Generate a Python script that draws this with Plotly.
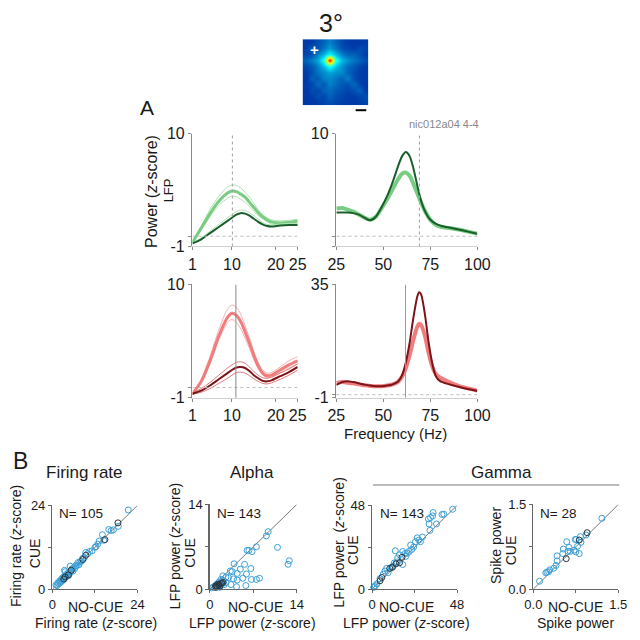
import plotly.graph_objects as go

# ---------------- DATA ----------------
freq_alpha = [1, 3, 5, 7, 9, 10, 11, 12, 13, 14, 15, 16, 17, 18, 19, 21, 23, 25]
green_light_alpha = [-0.6, 0.8, 2.2, 3.4, 4.2, 4.4, 4.35, 4.1, 3.8, 3.3, 2.8, 2.3, 1.9, 1.6, 1.4, 1.3, 1.35, 1.45]
green_light_alpha_hi = [-0.5, 1.0, 2.6, 3.9, 4.8, 5.0, 4.95, 4.7, 4.3, 3.8, 3.2, 2.6, 2.1, 1.8, 1.6, 1.5, 1.55, 1.65]
green_light_alpha_lo = [-0.7, 0.6, 1.9, 3.0, 3.7, 3.9, 3.85, 3.6, 3.3, 2.9, 2.4, 2.0, 1.7, 1.4, 1.2, 1.1, 1.15, 1.25]
green_dark_alpha = [-0.7, -0.3, 0.3, 0.9, 1.5, 1.8, 2.1, 2.25, 2.2, 2.0, 1.7, 1.4, 1.15, 1.0, 0.95, 1.05, 1.1, 1.1]
green_dark_alpha_hi = [-0.65, -0.15, 0.5, 1.15, 1.8, 2.1, 2.4, 2.55, 2.5, 2.3, 2.0, 1.65, 1.35, 1.15, 1.1, 1.2, 1.25, 1.25]

red_light_alpha = [-0.6, 0.6, 2.6, 5.0, 6.8, 7.2, 7.0, 6.4, 5.4, 4.3, 3.1, 2.1, 1.4, 1.15, 1.2, 1.7, 2.2, 2.6]
red_light_alpha_hi = [-0.5, 0.8, 3.0, 5.6, 7.6, 8.0, 7.8, 7.1, 6.0, 4.8, 3.5, 2.4, 1.7, 1.4, 1.45, 2.0, 2.6, 3.0]
red_light_alpha_lo = [-0.7, 0.4, 2.3, 4.6, 6.3, 6.6, 6.3, 5.7, 4.8, 3.8, 2.7, 1.8, 1.2, 1.0, 1.0, 1.45, 1.9, 2.3]
red_dark_alpha = [-0.6, -0.3, 0.2, 0.8, 1.4, 1.7, 1.95, 2.0, 1.9, 1.6, 1.2, 0.9, 0.65, 0.6, 0.7, 1.1, 1.5, 2.0]
red_dark_alpha_hi = [-0.55, -0.1, 0.5, 1.2, 1.9, 2.2, 2.45, 2.5, 2.35, 2.0, 1.55, 1.2, 0.95, 0.9, 1.0, 1.4, 1.8, 2.3]
red_dark_alpha_lo = [-0.65, -0.45, -0.1, 0.4, 0.9, 1.2, 1.45, 1.5, 1.4, 1.15, 0.85, 0.6, 0.4, 0.35, 0.45, 0.8, 1.2, 1.7]

freq_gamma = [25, 28, 31, 34, 37, 40, 43, 46, 49, 52, 55, 58, 60, 62, 64, 66, 68, 70, 72, 75, 78, 81, 85, 90, 95, 100]
green_dark_gamma = [2.3, 2.3, 2.3, 2.25, 2.1, 1.8, 1.55, 1.9, 2.8, 3.9, 5.3, 6.9, 7.8, 8.2, 7.8, 6.6, 5.0, 3.5, 2.5, 1.6, 1.2, 1.0, 0.85, 0.65, 0.45, 0.25]
green_light_gamma = [2.7, 2.75, 2.6, 2.4, 2.1, 1.8, 1.6, 1.9, 2.7, 3.6, 4.6, 5.6, 6.1, 6.2, 5.9, 5.1, 4.2, 3.3, 2.5, 1.6, 1.1, 0.9, 0.8, 0.65, 0.45, 0.25]

freq_gamma2 = [25, 28, 31, 34, 37, 40, 43, 46, 49, 52, 55, 58, 60, 62, 64, 66, 68, 69, 70, 72, 74, 76, 78, 80, 85, 90, 95, 100]
red_dark_gamma = [3.1, 4.0, 4.3, 4.0, 3.6, 3.2, 2.9, 2.7, 2.7, 2.9, 3.3, 4.3, 6.2, 10.3, 16.5, 24.5, 31.0, 32.5, 32.0, 26.0, 17.0, 10.0, 5.8, 4.4, 3.3, 2.5, 1.8, 1.2]
red_light_gamma = [3.6, 4.0, 3.8, 3.6, 3.3, 3.0, 2.8, 2.7, 2.7, 2.9, 3.3, 4.2, 5.8, 8.5, 12.5, 17.5, 21.5, 22.5, 22.2, 19.0, 13.5, 9.0, 6.5, 5.5, 4.0, 2.8, 2.0, 1.3]

# Panel B scatter data (x = NO-CUE, y = CUE)
fr_nocue = [1.0, 1.3, 1.5, 1.8, 2.0, 2.2, 2.5, 2.6, 2.8, 3.0, 3.2, 3.4, 3.6, 3.8, 4.0, 4.2, 4.5, 4.8, 5.0, 5.2, 5.5, 5.8, 6.0, 6.3, 6.6, 7.0, 7.2, 7.5, 7.8, 8.2, 8.5, 9.0, 9.4, 10.0, 10.5, 11.2, 12.0, 12.3, 12.8, 13.2, 14.1, 14.5, 15.9, 16.6, 17.2, 18.6, 21.4, 3.4, 2.3, 4.6]
fr_cue = [1.2, 1.0, 1.8, 1.5, 2.3, 1.9, 2.8, 2.2, 3.2, 2.6, 3.5, 3.0, 5.0, 3.8, 4.3, 3.7, 4.8, 4.5, 6.6, 5.0, 5.8, 5.2, 6.2, 5.9, 6.8, 6.8, 7.6, 7.0, 7.9, 8.0, 8.8, 9.0, 10.5, 10.2, 10.8, 11.0, 12.0, 12.2, 12.9, 13.8, 15.6, 14.0, 17.1, 16.8, 17.0, 18.0, 22.7, 5.4, 2.1, 3.9]
fr_dark_nocue = [3.2, 3.6, 4.5, 5.3, 8.6, 9.4, 14.8, 18.5]
fr_dark_cue = [2.9, 3.5, 4.1, 5.4, 8.5, 9.7, 14.2, 19.0]

al_nocue = [9.4, 9.1, 10.9, 7.5, 6.0, 6.3, 6.8, 12.8, 12.6, 3.9, 5.6, 4.9, 6.6, 3.3, 3.6, 4.4, 5.9, 5.3, 6.7, 7.5, 8.0, 3.0, 3.8, 4.4, 2.2, 2.6, 3.4, 4.3, 5.8, 2.3, 2.1, 0.3, 0.6, 0.8, 1.0, 1.2, 1.5, 1.8, 1.4, 2.0, 2.6, 1.6]
al_cue = [9.5, 8.8, 6.9, 7.0, 6.4, 6.4, 6.2, 4.7, 4.1, 4.2, 4.1, 3.3, 3.4, 3.0, 2.9, 2.6, 2.5, 1.8, 1.6, 1.6, 1.8, 1.9, 1.7, 1.5, 1.4, 1.1, 0.75, 0.4, 0.6, 0.75, 2.2, 0.2, 0.4, 0.3, 0.7, 0.9, 1.2, 1.6, 0.5, 0.9, 2.0, 0.3]
al_dark_nocue = [0.9, 1.1, 1.3, 1.5, 1.7, 1.9, 1.0, 1.2, 1.6, 2.1]
al_dark_cue = [0.5, 0.6, 0.8, 0.7, 0.9, 1.0, 0.3, 0.4, 0.5, 1.1]

gl_nocue = [45.5, 40.5, 39.5, 34.5, 34.2, 33.0, 31.8, 32.2, 36.4, 32.7, 25.5, 26.4, 24.5, 21.8, 27.3, 13.1, 17.3, 20.9, 19.8, 18.8, 15.5, 14.5, 17.3, 14.0, 11.8, 10.8, 8.2, 7.3, 9.1, 6.4, 4.5, 2.7, 1.8, 0.9, 1.3, 22.5, 28.5, 12.5, 19.0, 23.5]
gl_cue = [45.8, 43.0, 42.8, 43.9, 42.0, 41.0, 40.2, 37.4, 37.4, 33.7, 29.4, 28.1, 27.2, 25.3, 27.2, 22.0, 21.6, 21.6, 20.6, 20.5, 19.7, 17.9, 14.1, 15.6, 13.2, 12.4, 11.9, 10.4, 9.5, 8.6, 6.0, 3.0, 2.0, 1.0, 1.5, 22.8, 29.9, 15.0, 18.8, 24.2]
gl_dark_nocue = [16.9, 15.5, 10.0, 5.5, 4.5, 11.5, 13.5]
gl_dark_cue = [18.2, 15.1, 11.9, 6.7, 4.8, 12.5, 14.5]

sp_nocue = [1.21, 0.93, 0.83, 0.74, 0.59, 0.84, 0.76, 0.78, 0.72, 0.81, 0.75, 0.65, 0.61, 0.53, 0.52, 0.42, 0.42, 0.40, 0.36, 0.29, 0.24, 0.22, 0.27, 0.11, 0.63]
sp_cue = [1.255, 0.96, 0.93, 0.88, 0.84, 0.83, 0.88, 0.76, 0.69, 0.63, 0.66, 0.67, 0.67, 0.71, 0.63, 0.59, 0.50, 0.42, 0.37, 0.34, 0.30, 0.29, 0.31, 0.14, 0.74]
sp_dark_nocue = [0.95, 0.81, 0.58]
sp_dark_cue = [1.0, 0.87, 0.54]

# receptive field map (coarse grid, rows top->bottom)
rf_map = [
    [0.19, 0.20, 0.22, 0.24, 0.27, 0.24, 0.21, 0.20, 0.19, 0.19, 0.20],
    [0.20, 0.23, 0.22, 0.26, 0.30, 0.26, 0.22, 0.21, 0.20, 0.22, 0.21],
    [0.21, 0.22, 0.27, 0.32, 0.40, 0.33, 0.27, 0.24, 0.24, 0.22, 0.20],
    [0.24, 0.27, 0.31, 0.42, 0.80, 0.44, 0.33, 0.29, 0.26, 0.24, 0.22],
    [0.21, 0.23, 0.27, 0.33, 0.42, 0.34, 0.29, 0.25, 0.23, 0.21, 0.20],
    [0.20, 0.22, 0.26, 0.28, 0.31, 0.29, 0.28, 0.24, 0.22, 0.20, 0.19],
    [0.19, 0.24, 0.23, 0.27, 0.28, 0.26, 0.24, 0.27, 0.22, 0.20, 0.19],
    [0.20, 0.21, 0.25, 0.23, 0.27, 0.25, 0.23, 0.22, 0.25, 0.21, 0.19],
    [0.19, 0.22, 0.21, 0.24, 0.25, 0.23, 0.22, 0.21, 0.22, 0.24, 0.20],
    [0.19, 0.20, 0.22, 0.21, 0.24, 0.22, 0.21, 0.20, 0.20, 0.21, 0.22],
    [0.18, 0.19, 0.20, 0.21, 0.22, 0.21, 0.20, 0.19, 0.19, 0.20, 0.21],
]

# ---------------- STYLE ----------------
W = H = 640
FONT = "Liberation Sans, Arial, Helvetica, sans-serif"
TXT = "#1a1a1a"
G_LIGHT = "rgb(120,205,130)"
G_THIN = "rgb(175,228,175)"
G_DARK = "rgb(25,95,45)"
R_LIGHT = "rgb(240,125,125)"
R_THIN = "rgb(246,175,175)"
R_DARK = "rgb(125,20,25)"
R_DARK_THIN = "rgb(225,120,120)"
BLUE = "rgb(60,160,215)"
DARKPT = "rgb(40,55,65)"


def fx(x):
    return x / W


def fy(y):
    return 1 - y / H


fig = go.Figure()
layout = dict(width=W, height=H, margin=dict(l=0, r=0, t=0, b=0), autosize=False,
              paper_bgcolor="white", plot_bgcolor="white", showlegend=False,
              font=dict(family=FONT, color=TXT))
shapes = []
annotations = []


def ann(text, x, y, size, color=TXT, angle=0, xanchor="center", yanchor="middle"):
    annotations.append(dict(text=text, x=fx(x), y=fy(y), xref="paper", yref="paper",
                            showarrow=False, textangle=angle, xanchor=xanchor, yanchor=yanchor,
                            font=dict(size=size, color=color, family=FONT)))


def axes(n, x0, x1, y0, y1, xr, yr, xtv, xtt, ytv, ytt, tsize, lc, xlc):
    s = "" if n == 1 else str(n)
    layout["xaxis" + s] = dict(domain=[fx(x0), fx(x1)], range=xr, anchor="y" + s,
                               showgrid=False, zeroline=False, showline=True, linecolor=xlc,
                               linewidth=1, ticks="outside", ticklen=3, tickcolor=lc,
                               tickvals=xtv, ticktext=xtt, tickfont=dict(size=tsize, color=TXT),
                               fixedrange=True)
    layout["yaxis" + s] = dict(domain=[fy(y1), fy(y0)], range=yr, anchor="x" + s,
                               showgrid=False, zeroline=False, showline=True, linecolor=lc,
                               linewidth=1.5, ticks="outside", ticklen=3, tickcolor=lc,
                               tickvals=ytv, ticktext=ytt, tickfont=dict(size=tsize, color=TXT),
                               fixedrange=True)


def line(n, xs, ys, color, width):
    s = "" if n == 1 else str(n)
    fig.add_trace(go.Scatter(x=xs, y=ys, mode="lines", line=dict(color=color, width=width, shape="spline", smoothing=0.8),
                             xaxis="x" + s, yaxis="y" + s, hoverinfo="skip"))


def refline(n, xval, ylo, yhi, dash, color):
    s = "" if n == 1 else str(n)
    shapes.append(dict(type="line", xref="x" + s, yref="y" + s, x0=xval, x1=xval, y0=ylo, y1=yhi,
                       line=dict(color=color, width=1, dash=dash)))


def hline0(n, xlo, xhi):
    s = "" if n == 1 else str(n)
    shapes.append(dict(type="line", xref="x" + s, yref="y" + s, x0=xlo, x1=xhi, y0=0, y1=0,
                       line=dict(color="#bbbbbb", width=1, dash="dot")))


# ---------- Panel A ----------
AX = "#8a8a8a"
axes(1, 190, 299, 129, 245, [1, 25], [-1, 10], [1, 10, 20, 25], ["1", "10", "20", "25"],
     [-1, 0, 10], ["-1", "", "10"], 16, AX, "#d0d0d0")
axes(2, 339, 485, 129, 245, [25, 100], [-1, 10], [25, 50, 75, 100], ["25", "50", "75", "100"],
     [-1, 0, 10], ["", "", "10"], 16, AX, "#d0d0d0")
axes(3, 190, 299, 284, 400.5, [1, 25], [-1, 10], [1, 10, 20, 25], ["1", "10", "20", "25"],
     [-1, 0, 10], ["-1", "", "10"], 16, AX, "#d0d0d0")
axes(4, 339, 485, 284, 400.5, [25, 100], [-1, 35], [25, 50, 75, 100], ["25", "50", "75", "100"],
     [-1, 0, 35], ["-1", "", "35"], 16, AX, "#d0d0d0")

hline0(1, 1, 25)
hline0(2, 25, 100)
hline0(3, 1, 25)
hline0(4, 25, 100)
refline(1, 10.1, -1, 10, "dot", "#a0a0a0")
refline(2, 69.2, -1, 10.6, "dot", "#a0a0a0")
refline(3, 10.9, -1, 10, "solid", "#8a8a8a")
refline(4, 61.8, -1, 35, "solid", "#9a9a9a")

# top-left
line(1, freq_alpha, green_light_alpha_hi, G_THIN, 1)
line(1, freq_alpha, green_light_alpha_lo, G_THIN, 1)
line(1, freq_alpha, green_light_alpha, G_LIGHT, 3)
line(1, freq_alpha, green_dark_alpha_hi, G_THIN, 1)
line(1, freq_alpha, green_dark_alpha, G_DARK, 2)
# top-right
line(2, freq_gamma, green_light_gamma, G_LIGHT, 4)
line(2, freq_gamma, green_dark_gamma, G_DARK, 2)
# bottom-left
line(3, freq_alpha, red_light_alpha_hi, R_THIN, 1)
line(3, freq_alpha, red_light_alpha_lo, R_THIN, 1)
line(3, freq_alpha, red_light_alpha, R_LIGHT, 3)
line(3, freq_alpha, red_dark_alpha_hi, R_DARK_THIN, 1)
line(3, freq_alpha, red_dark_alpha_lo, R_DARK_THIN, 1)
line(3, freq_alpha, red_dark_alpha, R_DARK, 2)
# bottom-right
line(4, freq_gamma2, red_light_gamma, R_LIGHT, 4)
line(4, freq_gamma2, red_dark_gamma, R_DARK, 2)

ann("Power (<i>z</i>-score)", 147, 188, 16, angle=-90)
ann("LFP", 165, 187, 13, angle=-90)
ann("Frequency (Hz)", 400, 437, 15)
ann("nic012a04 4-4", 451, 119, 11, color="#888888")
ann("A", 143, 102, 21)
ann("3°", 333, 15, 25)

# ---------- Receptive field ----------
layout["xaxis9"] = dict(domain=[fx(304), fx(372)], range=[-0.5, 10.5], anchor="y9", visible=False, fixedrange=True)
layout["yaxis9"] = dict(domain=[fy(100), fy(32)], range=[10.5, -0.5], anchor="x9", visible=False, fixedrange=True)
fig.add_trace(go.Heatmap(z=rf_map, colorscale="Jet", zmin=0, zmax=1, zsmooth="best",
                         showscale=False, xaxis="x9", yaxis="y9", hoverinfo="skip"))
ann("<b>+</b>", 316, 43, 15, color="white")
shapes.append(dict(type="line", xref="paper", yref="paper", x0=fx(359), x1=fx(370), y0=fy(105), y1=fy(105),
                   line=dict(color="black", width=2)))

# ---------- Panel B ----------
BAX = "#666666"
scat = [
    (5, 45, 133, 511, 597, 24, "24", "0", fr_nocue, fr_cue, fr_dark_nocue, fr_dark_cue),
    (6, 208, 298, 510, 597, 14, "14", "0", al_nocue, al_cue, al_dark_nocue, al_dark_cue),
    (7, 376, 464, 511, 597, 48, "48", "0", gl_nocue, gl_cue, gl_dark_nocue, gl_dark_cue),
    (8, 543, 631, 510, 597, 1.5, "1.5", "0.0", sp_nocue, sp_cue, sp_dark_nocue, sp_dark_cue),
]
for n, x0, x1, y0, y1, mx, lab, zl, xn, yc, dxn, dyc in scat:
    axes(n, x0, x1, y0, y1, [0, mx], [0, mx], [0, mx / 2, mx], [zl, "", lab],
         [0, mx / 2, mx], [zl, "", lab], 13, BAX, BAX)
    s = str(n)
    fig.add_trace(go.Scatter(x=[0, mx], y=[0, mx], mode="lines", line=dict(color="#555555", width=0.8),
                             xaxis="x" + s, yaxis="y" + s, hoverinfo="skip"))
    fig.add_trace(go.Scatter(x=xn, y=yc, mode="markers",
                             marker=dict(symbol="circle-open", size=6, color=BLUE, line=dict(width=1, color=BLUE)),
                             xaxis="x" + s, yaxis="y" + s, hoverinfo="skip", cliponaxis=False))
    fig.add_trace(go.Scatter(x=dxn, y=dyc, mode="markers",
                             marker=dict(symbol="circle-open", size=6, color=DARKPT, line=dict(width=1, color=DARKPT)),
                             xaxis="x" + s, yaxis="y" + s, hoverinfo="skip", cliponaxis=False))

ann("B", 12, 465, 23)
ann("Firing rate", 78, 477, 17)
ann("Alpha", 252, 477, 17)
ann("Gamma", 510, 477, 17)
shapes.append(dict(type="line", xref="paper", yref="paper", x0=fx(377), x1=fx(632), y0=fy(490), y1=fy(490),
                   line=dict(color="#777777", width=1)))

ann("N= 105", 50, 519, 13.5, xanchor="left")
ann("N= 143", 213, 519, 13.5, xanchor="left")
ann("N= 143", 382, 519, 13.5, xanchor="left")
ann("N= 28", 548, 519, 13.5, xanchor="left")

for xc in (90, 255, 412, 587):
    ann("NO-CUE", xc, 615, 14)
ann("Firing rate (<i>z</i>-score)", 90, 632, 14)
ann("LFP power (<i>z</i>-score)", 252, 632, 14)
ann("LFP power (<i>z</i>-score)", 412, 632, 14)
ann("Spike power", 587, 632, 14)

ann("Firing rate (<i>z</i>-score)", 8, 553, 14, angle=-90)
ann("CUE", 27, 560, 14, angle=-90)
ann("LFP power (<i>z</i>-score)", 172, 553, 14, angle=-90)
ann("CUE", 188, 560, 14, angle=-90)
ann("LFP power  (<i>z</i>-score)", 342, 549, 14, angle=-90)
ann("CUE", 356, 557, 14, angle=-90)
ann("Spike power", 505, 552, 14, angle=-90)
ann("CUE", 520, 557, 14, angle=-90)

layout["shapes"] = shapes
layout["annotations"] = annotations
fig.update_layout(**layout)
fig.write_html(
    "out.html",
    config={"displayModeBar": False, "staticPlot": True},
    post_script=(
        "document.documentElement.style.margin='0';document.documentElement.style.padding='0';"
        "document.documentElement.style.overflow='hidden';"
        "document.body.style.margin='0';document.body.style.padding='0';document.body.style.overflow='hidden';"
    ),
)
